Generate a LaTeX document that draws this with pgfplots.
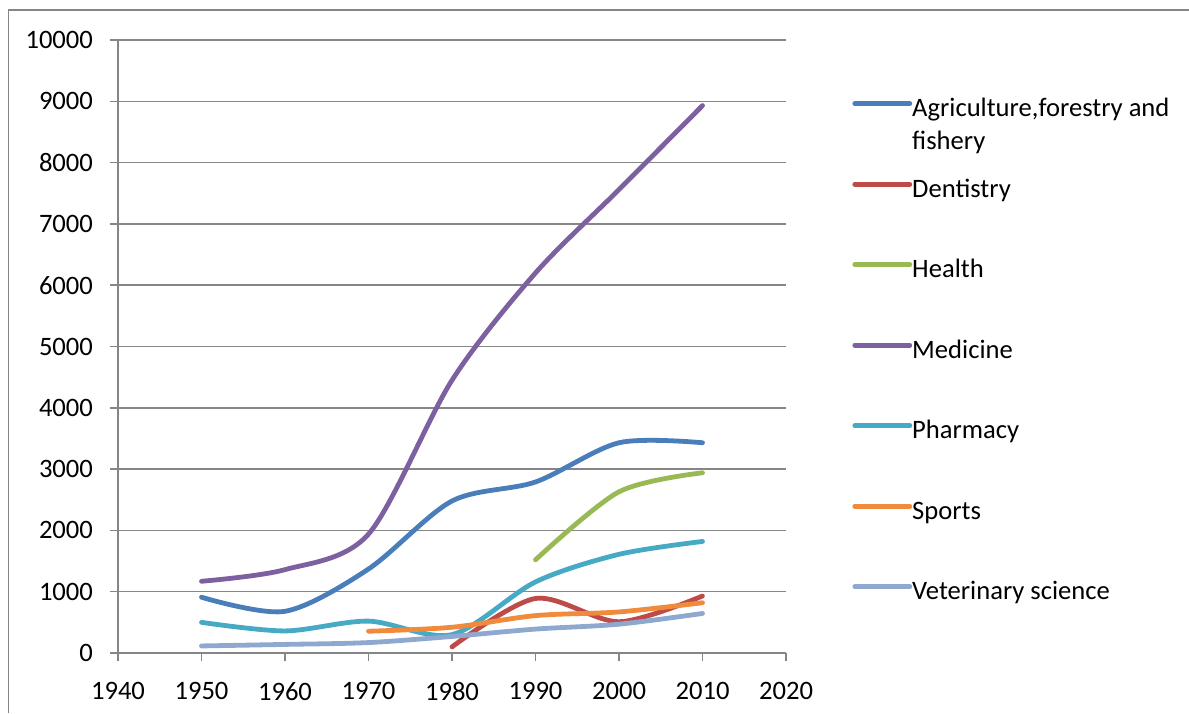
\documentclass[border=0pt]{standalone}
\usepackage{fontspec}
\setmainfont{Carlito}
\usepackage{pgfplots}
\pgfplotsset{compat=1.18}
\definecolor{cAgri}{HTML}{4A7EBB}
\definecolor{cDent}{HTML}{BE4B48}
\definecolor{cHealth}{HTML}{98B954}
\definecolor{cMed}{HTML}{7D60A0}
\definecolor{cPharm}{HTML}{46AAC5}
\definecolor{cSport}{HTML}{F08A3C}
\definecolor{cVet}{HTML}{8EA8D0}
\definecolor{gridgray}{HTML}{868686}

\begin{document}
\begin{tikzpicture}
\path[use as bounding box] (0,0) rectangle (594.5pt,356.5pt);
\draw[gridgray, line width=0.75pt] (4.25pt,0pt) -- (4.25pt,351.5pt) -- (594.5pt,351.5pt);
\begin{axis}[
    at={(59pt,30pt)}, anchor=south west,
    scale only axis, width=334pt, height=306.5pt,
    xmin=1940, xmax=2020, ymin=0, ymax=10000,
    xtick={1940,1950,...,2020},
    ytick={0,1000,...,10000},
    scaled y ticks=false,
    axis x line=bottom, axis y line=left,
    axis line style={-, gridgray, line width=0.75pt},
    tick align=outside, major tick length=4pt,
    tick style={gridgray, line width=0.75pt},
    ymajorgrids, grid style={gridgray, line width=0.75pt},
    /pgf/number format/1000 sep={},
    /pgf/number format/assume math mode=true,
    tick label style={font=\fontsize{13.3}{15}\selectfont},
    yticklabel style={xshift=-5pt},
    xticklabel style={yshift=-7pt},
    clip=false,
    every axis plot/.append style={line width=2.4pt, line cap=round, smooth, tension=0.5},
    legend cell align=left,
    legend image code/.code={\draw[#1] (0pt,3.5pt) -- (27.5pt,3.5pt);},
    legend style={at={(axis description cs:1.0988,0.905)}, anchor=north west,
        draw=none, fill=none, inner sep=0pt, row sep=28.25pt, column sep=0pt,
        font=\fontsize{13.3}{16.5}\selectfont,
        nodes={inner sep=0pt, text height=9pt, text depth=3pt}},
]
\addplot[cAgri] coordinates {(1950,910) (1960,680) (1970,1370) (1980,2480) (1990,2790) (2000,3430) (2010,3430)};
\addlegendentry{\begin{tabular}[t]{@{}l@{}}Agriculture,forestry and\\fishery\end{tabular}}
\addplot[cDent] coordinates {(1980,100) (1990,890) (2000,510) (2010,930)};
\addlegendentry{Dentistry}
\addplot[cHealth] coordinates {(1990,1520) (2000,2630) (2010,2940)};
\addlegendentry{Health}
\addplot[cMed] coordinates {(1950,1170) (1960,1360) (1970,1940) (1980,4450) (1990,6200) (2000,7560) (2010,8930)};
\addlegendentry{Medicine}
\addplot[cPharm] coordinates {(1950,500) (1960,360) (1970,520) (1980,300) (1990,1160) (2000,1610) (2010,1820)};
\addlegendentry{Pharmacy}
\addplot[cSport] coordinates {(1970,355) (1980,420) (1990,610) (2000,670) (2010,820)};
\addlegendentry{Sports}
\addplot[cVet] coordinates {(1950,115) (1960,140) (1970,170) (1980,270) (1990,390) (2000,470) (2010,645)};
\addlegendentry{Veterinary science}
\end{axis}
\end{tikzpicture}
\end{document}
